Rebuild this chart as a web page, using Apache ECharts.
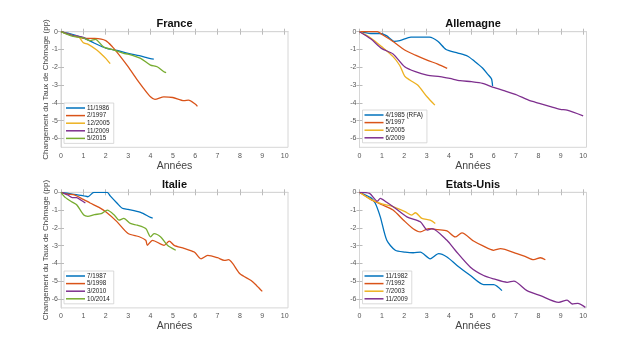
<!DOCTYPE html>
<html lang="fr">
<head>
    <meta charset="UTF-8">
    <title>Changement du Taux de Chômage</title>
    <style>
        html, body { margin: 0; padding: 0; background: #fff; }
        #main { width: 640px; height: 350px; }
    </style>
</head>
<body>
<div id="main"></div>
<script src="https://cdn.jsdelivr.net/npm/echarts@6/dist/echarts.min.js"></script>
<script>
    // ticks
    var xTicks = [0, 1, 2, 3, 4, 5, 6, 7, 8, 9, 10];
    var yTicks = [0, -1, -2, -3, -4, -5, -6];

    // France
    var fr1986 = [[0,0],[0.5,-0.15],[1,-0.35],[1.5,-0.65],[2,-0.92],[2.5,-1.05],[3,-1.22],[3.5,-1.35],[3.8,-1.45],[4,-1.52],[4.15,-1.54]];
    var fr1997 = [[0,0],[0.5,-0.22],[1,-0.37],[1.5,-0.38],[2,-0.5],[2.3,-0.85],[2.66,-1.4],[3,-1.97],[3.4,-2.7],[3.7,-3.2],[4,-3.66],[4.2,-3.8],[4.6,-3.66],[5,-3.7],[5.5,-3.88],[5.7,-3.85],[6,-4.07],[6.1,-4.2]];
    var fr2005 = [[0,0],[0.5,-0.2],[0.8,-0.3],[1,-0.62],[1.2,-0.7],[1.6,-1.03],[1.8,-1.25],[2,-1.5],[2.2,-1.8]];
    var fr2009 = [[0,0],[0.5,-0.2],[1,-0.32],[1.2,-0.45]];
    var fr2015 = [[0,0],[0.5,-0.25],[1,-0.35],[1.3,-0.5],[1.54,-0.43],[1.9,-0.85],[2.37,-1.03],[2.8,-1.22],[3,-1.26],[3.56,-1.5],[4,-1.88],[4.3,-1.97],[4.6,-2.25],[4.7,-2.3]];

    // Allemagne
    var de1985 = [[0,0],[0.5,-0.1],[0.9,-0.1],[1.2,-0.22],[1.55,-0.54],[1.8,-0.5],[2.3,-0.31],[2.7,-0.3],[3.12,-0.31],[3.5,-0.54],[3.87,-1.0],[4.4,-1.2],[4.84,-1.38],[5.14,-1.66],[5.5,-2.04],[5.74,-2.4],[5.9,-2.65],[5.95,-3.05]];
    var de1997 = [[0,0],[0.8,0],[1,-0.15],[1.5,-0.55],[2.02,-1.03],[2.5,-1.32],[3.02,-1.6],[3.5,-1.82],[3.92,-2.06]];
    var de2005 = [[0,0],[0.5,-0.35],[1,-0.85],[1.5,-1.4],[1.8,-1.9],[2.02,-2.5],[2.25,-2.72],[2.6,-3.0],[3.02,-3.66],[3.37,-4.13]];
    var de2009 = [[0,0],[0.5,-0.4],[1,-0.95],[1.5,-1.25],[2.02,-1.97],[2.5,-2.25],[3.02,-2.44],[3.6,-2.53],[4.04,-2.63],[4.5,-2.75],[5.01,-2.81],[5.5,-2.9],[5.99,-3.13],[6.5,-3.33],[7.04,-3.56],[7.56,-3.85],[8.04,-4.03],[8.5,-4.2],[8.98,-4.37],[9.28,-4.41],[10,-4.73]];

    // Italie
    var it1987 = [[0,0],[0.5,-0.1],[1.02,-0.2],[1.2,-0.25],[1.47,0],[2.07,0],[2.2,-0.2],[2.5,-0.6],[2.74,-0.9],[3,-0.96],[3.56,-1.13],[4.0,-1.41],[4.1,-1.45]];
    var it1998 = [[0,0],[0.3,-0.1],[0.6,-0.15],[1,-0.4],[1.3,-0.6],[1.7,-0.85],[2,-1.1],[2.5,-1.65],[3,-2.32],[3.5,-2.5],[3.79,-2.7],[3.86,-2.98],[4.09,-2.7],[4.61,-2.98],[4.84,-2.74],[5.06,-2.98],[5.5,-3.15],[5.96,-3.36],[6.26,-3.74],[6.56,-3.55],[7.0,-3.68],[7.3,-3.83],[7.49,-3.79],[8.0,-4.58],[8.5,-4.96],[8.75,-5.25],[9.0,-5.57]];
    var it2010 = [[0,0],[0.3,-0.15],[0.5,-0.3],[0.7,-0.3],[0.9,-0.45],[1.09,-0.6]];
    var it2014 = [[0,0],[0.2,-0.3],[0.5,-0.55],[0.7,-0.7],[1.02,-1.28],[1.2,-1.35],[1.5,-1.25],[1.8,-1.2],[2.07,-1.0],[2.4,-1.3],[2.59,-1.57],[2.81,-1.47],[3.1,-1.75],[3.41,-1.85],[3.79,-2.04],[4.01,-2.51],[4.16,-2.32],[4.46,-2.51],[4.76,-2.98],[5.13,-3.26]];

    // Etats-Unis
    var us1982 = [[0,0],[0.5,-0.3],[0.7,-0.6],[0.93,-1.38],[1.22,-2.7],[1.6,-3.26],[2.04,-3.36],[2.4,-3.4],[2.72,-3.36],[3.16,-3.74],[3.54,-3.45],[3.91,-3.64],[4.36,-4.11],[4.96,-4.68],[5.55,-5.19],[6.0,-5.19],[6.37,-5.53]];
    var us1992 = [[0,0],[0.5,-0.4],[1,-0.7],[1.5,-1.0],[1.97,-1.57],[2.4,-2.05],[2.72,-2.23],[3.09,-2.04],[3.5,-2.1],[3.91,-2.17],[4.28,-2.51],[4.58,-2.28],[5.1,-2.74],[5.5,-3.0],[6.0,-3.26],[6.3,-3.17],[7.04,-3.45],[7.4,-3.6],[7.79,-3.79],[8.09,-3.68],[8.31,-3.79]];
    var us2003 = [[0,0],[0.5,-0.4],[1,-0.65],[1.5,-0.8],[2.04,-1.09],[2.34,-1.28],[2.5,-1.15],[2.79,-1.47],[3.16,-1.57],[3.39,-1.75]];
    var us2009 = [[0,0],[0.45,-0.06],[0.8,-0.5],[0.93,-0.34],[1.2,-0.55],[1.6,-0.9],[2.12,-1.38],[2.72,-1.66],[3.04,-2.13],[3.24,-2.04],[3.91,-2.7],[4.28,-3.26],[4.96,-4.21],[5.55,-4.68],[6.0,-4.87],[6.6,-5.06],[6.9,-5.0],[7.49,-5.53],[8.09,-5.81],[8.91,-6.19],[9.28,-6.06],[9.51,-6.28],[9.76,-6.25],[10.1,-6.47]];

    var colors = ['#0072BD', '#D95319', '#EDB120', '#7E2F8E', '#77AC30'];
    var font = 'Liberation Sans, Arial, sans-serif';

    var panels = [
        {title: 'France', left: 61, top: 31.7, ylabel: true,
            names: ['11/1986', '2/1997', '12/2005', '11/2009', '5/2015'],
            data: [fr1986, fr1997, fr2005, fr2009, fr2015], cols: [0, 1, 2, 3, 4], legendTop: 103},
        {title: 'Allemagne', left: 359.5, top: 31.7, ylabel: false,
            names: ['4/1985 (RFA)', '5/1997', '5/2005', '6/2009'],
            data: [de1985, de1997, de2005, de2009], cols: [0, 1, 2, 3], legendTop: 110},
        {title: 'Italie', left: 61, top: 192.3, ylabel: true,
            names: ['7/1987', '5/1998', '3/2010', '10/2014'],
            data: [it1987, it1998, it2010, it2014], cols: [0, 1, 3, 4], legendTop: 271},
        {title: 'Etats-Unis', left: 359.5, top: 192.3, ylabel: false,
            names: ['11/1982', '7/1992', '7/2003', '11/2009'],
            data: [us1982, us1992, us2003, us2009], cols: [0, 1, 2, 3], legendTop: 271}
    ];

    var W = 227, H = 115.6;
    var boxColor = '#d6d6d6';
    var option = {
        animation: false,
        backgroundColor: '#fff',
        textStyle: {fontFamily: font},
        title: [], grid: [], xAxis: [], yAxis: [], legend: [], series: []
    };

    panels.forEach(function (p, i) {
        option.title.push({
            text: p.title, left: p.left + W / 2, top: p.top - 13, textAlign: 'center', padding: 0,
            textStyle: {fontSize: 11, fontWeight: 'bold', color: '#111', fontFamily: font}
        });
        option.grid.push({left: p.left, top: p.top, width: W, height: H,
            show: true, borderColor: boxColor, borderWidth: 1});

        // bottom x axis
        option.xAxis.push({
            type: 'value', gridIndex: i, min: 0, max: 10.15,
            name: 'Années', nameLocation: 'middle', nameGap: 13, nameMoveOverlap: false,
            nameTextStyle: {fontSize: 10.5, color: '#444', fontFamily: font},
            axisLine: {lineStyle: {color: boxColor}},
            splitLine: {show: false},
            axisLabel: {customValues: xTicks, fontSize: 7, color: '#555', margin: 5},
            axisTick: {show: true, inside: true, length: 3, customValues: xTicks, lineStyle: {color: '#bbb'}}
        });
        // top x axis (ticks only)
        option.xAxis.push({
            type: 'value', gridIndex: i, min: 0, max: 10.15, position: 'top',
            axisLine: {lineStyle: {color: boxColor}}, splitLine: {show: false},
            axisLabel: {show: false},
            axisTick: {show: true, inside: true, length: 3, customValues: xTicks, lineStyle: {color: '#bbb'}}
        });
        option.yAxis.push({
            type: 'value', gridIndex: i, min: -6.5, max: 0,
            name: p.ylabel ? 'Changement du Taux de Chômage (pp)' : '',
            nameLocation: 'middle', nameRotate: 90, nameGap: 11.5, nameMoveOverlap: false,
            nameTextStyle: {fontSize: 8, color: '#444', fontFamily: font},
            axisLine: {show: true, lineStyle: {color: boxColor}}, splitLine: {show: false},
            axisLabel: {customValues: yTicks, fontSize: 7, color: '#555', margin: 3},
            axisTick: {show: true, inside: true, length: 3, customValues: yTicks, lineStyle: {color: '#bbb'}}
        });
        option.yAxis.push({
            type: 'value', gridIndex: i, min: -6.5, max: 0, position: 'right',
            axisLine: {show: true, lineStyle: {color: boxColor}}, splitLine: {show: false},
            axisLabel: {show: false},
            axisTick: {show: true, inside: true, length: 3, customValues: yTicks, lineStyle: {color: '#bbb'}}
        });

        option.legend.push({
            data: p.names, orient: 'vertical', left: p.left + 3, top: p.legendTop,
            icon: 'rect', itemWidth: 19, itemHeight: 1.5, itemGap: 1.6,
            padding: [2, 4, 2, 2], borderColor: '#d0d0d0', borderWidth: 0.8,
            backgroundColor: '#fff',
            textStyle: {fontSize: 6.3, color: '#222', fontFamily: font, padding: [0, 0, 0, -3]}
        });

        p.data.forEach(function (d, k) {
            var c = colors[p.cols[k]];
            option.series.push({
                name: p.names[k], type: 'line', data: d,
                xAxisIndex: 2 * i, yAxisIndex: 2 * i,
                symbol: 'none', smooth: 0.25,
                lineStyle: {width: 1.3, color: c},
                itemStyle: {color: c}
            });
        });
    });

    var chart = echarts.init(document.getElementById('main'));
    chart.setOption(option);
</script>
</body>
</html>
